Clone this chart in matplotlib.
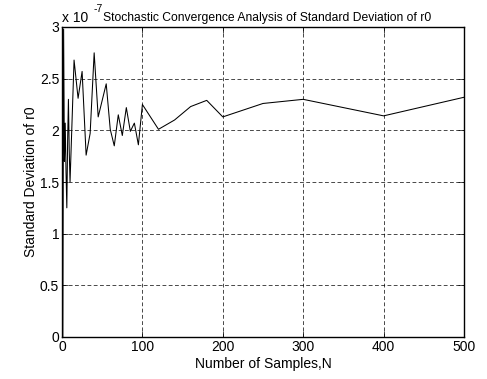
import numpy as np
import matplotlib
matplotlib.use("Agg")
import matplotlib.pyplot as plt

plt.rcParams['font.family'] = ['Liberation Sans', 'DejaVu Sans']

# number of samples and standard deviation of r0 (units of 1e-7)
n_samples = [1, 2, 3, 4, 5, 6, 7, 8, 9, 10,
             15, 20, 25, 30, 35, 40, 45, 50, 55, 60, 65, 70, 75, 80, 85, 90, 95, 100,
             120, 140, 160, 180, 200, 250, 300, 400, 500]
std_r0 = [0.0, 2.98, 1.70, 2.07, 1.60, 1.25, 1.90, 2.30, 1.80, 1.50,
          2.68, 2.31, 2.57, 1.76, 1.97, 2.75, 2.13, 2.29, 2.45, 2.01, 1.85, 2.15, 1.95, 2.22, 1.99, 2.07, 1.86, 2.25,
          2.01, 2.10, 2.23, 2.29, 2.13, 2.26, 2.30, 2.14, 2.32]

x_ticks = [0, 100, 200, 300, 400, 500]
y_ticks = [0, 0.5, 1, 1.5, 2, 2.5, 3]
y_labels = ['0', '0.5', '1', '1.5', '2', '2.5', '3']

fig = plt.figure(figsize=(4.87, 3.79), dpi=100)
ax = fig.add_axes([62/487, 42/379, 402/487, 310/379])

ax.plot(n_samples, std_r0, color='black', linewidth=0.75)

ax.set_xlim(0, 500)
ax.set_ylim(0, 3)
ax.set_xticks(x_ticks)
ax.set_yticks(y_ticks)
ax.set_yticklabels(y_labels)
ax.tick_params(direction='in', top=True, right=True, labelsize=10, length=4, width=0.5, pad=2)
ax.grid(True, color='black', linestyle=(0, (5.5, 3.5)), linewidth=0.5)
for s in ax.spines.values():
    s.set_linewidth(1.0)

ax.set_xlabel('Number of Samples,N', fontsize=10, labelpad=2)
ax.set_ylabel('Standard Deviation of r0', fontsize=10, labelpad=1)

fig.text(62/487, 1 - 22/379, 'x 10', fontsize=10, ha='left', va='baseline')
fig.text(94/487, 1 - 12/379, '-7', fontsize=7.5, ha='left', va='baseline')
fig.text(103/487, 1 - 21/379, 'Stochastic Convergence Analysis of Standard Deviation of r0',
         fontsize=8.7, ha='left', va='baseline')

fig.savefig('out.png', dpi=100)
